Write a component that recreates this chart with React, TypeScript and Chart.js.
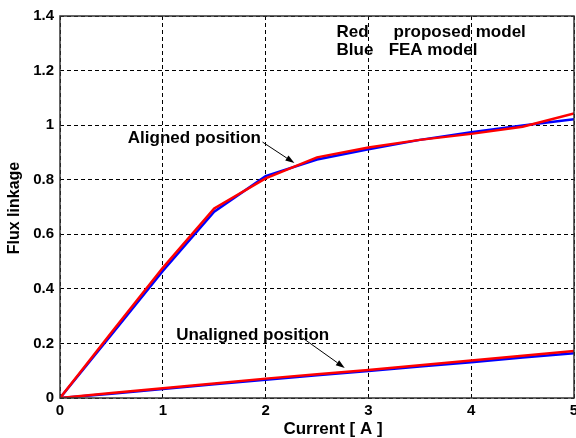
import React, { useEffect, useRef } from "react";
import { Chart, registerables } from "chart.js";

Chart.register(...registerables);

// Current [A] sample points
const current = [0, 0.5, 1, 1.5, 2, 2.5, 3, 3.5, 4, 4.5, 5];

// Flux linkage, aligned rotor position
const alignedProposed = [0, 0.24, 0.477, 0.695, 0.805, 0.882, 0.918, 0.946, 0.968, 0.994, 1.043];
const alignedFEA = [0, 0.232, 0.466, 0.683, 0.813, 0.874, 0.912, 0.946, 0.974, 0.999, 1.022];

// Flux linkage, unaligned rotor position
const unalignedProposed = [0, 0.018, 0.036, 0.053, 0.071, 0.087, 0.103, 0.12, 0.137, 0.155, 0.172];
const unalignedFEA = [0, 0.016, 0.033, 0.05, 0.067, 0.083, 0.099, 0.115, 0.131, 0.148, 0.164];

const xTicks = [0, 1, 2, 3, 4, 5];
const yTicks = [0, 0.2, 0.4, 0.6, 0.8, 1, 1.2, 1.4];

// In-plot notes, anchored in data units (left edge, text baseline)
const noteTexts = ["Aligned position", "Unaligned position", "Red", "proposed model", "Blue", "FEA model"];
const noteX = [0.66, 1.13, 2.69, 3.245, 2.69, 3.197];
const noteY = [0.934, 0.2125, 1.3226, 1.3226, 1.257, 1.257];

// Pointer arrows, in data units
const arrowFromX = [1.97, 2.36];
const arrowFromY = [0.938, 0.22];
const arrowToX = [2.28, 2.77];
const arrowToY = [0.861, 0.11];

const FONT = '"Liberation Sans", Arial, Helvetica, sans-serif';

const toPoints = (ys: number[]) => current.map((x, i) => ({ x, y: ys[i] }));

const decorPlugin = {
  id: "decor",
  afterDatasetsDraw(chart: any) {
    const { ctx, chartArea: a, scales } = chart;
    const sx = scales.x;
    const sy = scales.y;
    ctx.save();
    // frame around the plot area
    ctx.strokeStyle = "#333";
    ctx.lineWidth = 1.5;
    ctx.strokeRect(a.left, a.top, a.right - a.left, a.bottom - a.top);

    // notes
    ctx.fillStyle = "#000";
    ctx.font = `bold 17px ${FONT}`;
    ctx.textAlign = "left";
    ctx.textBaseline = "alphabetic";
    noteTexts.forEach((t, i) => {
      ctx.fillText(t, sx.getPixelForValue(noteX[i]), sy.getPixelForValue(noteY[i]));
    });

    // arrows
    ctx.strokeStyle = "#000";
    ctx.lineWidth = 1;
    arrowFromX.forEach((_, i) => {
      const x1 = sx.getPixelForValue(arrowFromX[i]);
      const y1 = sy.getPixelForValue(arrowFromY[i]);
      const x2 = sx.getPixelForValue(arrowToX[i]);
      const y2 = sy.getPixelForValue(arrowToY[i]);
      const ang = Math.atan2(y2 - y1, x2 - x1);
      const len = 9;
      const w = 3;
      ctx.beginPath();
      ctx.moveTo(x1, y1);
      ctx.lineTo(x2 - len * Math.cos(ang), y2 - len * Math.sin(ang));
      ctx.stroke();
      const bx = x2 - len * Math.cos(ang);
      const by = y2 - len * Math.sin(ang);
      ctx.beginPath();
      ctx.moveTo(x2, y2);
      ctx.lineTo(bx + w * Math.sin(ang), by - w * Math.cos(ang));
      ctx.lineTo(bx - w * Math.sin(ang), by + w * Math.cos(ang));
      ctx.closePath();
      ctx.fill();
    });

    // axis titles
    ctx.font = `bold 17px ${FONT}`;
    ctx.textAlign = "center";
    ctx.fillText("Current [ A ]", (a.left + a.right) / 2 + 16, a.bottom + 36);
    ctx.font = `bold 16px ${FONT}`;
    ctx.translate(19, (a.top + a.bottom) / 2 + 1);
    ctx.rotate(-Math.PI / 2);
    ctx.fillText("Flux linkage", 0, 0);
    ctx.restore();
  },
};

export default function App() {
  const ref = useRef<HTMLCanvasElement | null>(null);

  useEffect(() => {
    if (!ref.current) return;
    const lineStyle = (color: string) => ({
      borderColor: color,
      backgroundColor: color,
      borderWidth: 2.5,
      pointRadius: 0,
      tension: 0,
      fill: false,
    });
    const gridStyle = {
      color: "#000",
      lineWidth: 1,
      drawTicks: false,
      tickBorderDash: [4, 3],
    };
    const chart = new Chart(ref.current, {
      type: "line",
      data: {
        datasets: [
          { label: "Aligned, proposed model", data: toPoints(alignedProposed), ...lineStyle("#ff0000") },
          { label: "Unaligned, proposed model", data: toPoints(unalignedProposed), ...lineStyle("#ff0000") },
          { label: "Aligned, FEA model", data: toPoints(alignedFEA), ...lineStyle("#0000ff") },
          { label: "Unaligned, FEA model", data: toPoints(unalignedFEA), ...lineStyle("#0000ff") },
        ],
      },
      options: {
        responsive: false,
        animation: false,
        devicePixelRatio: 1,
        layout: { padding: { top: 16, right: 2, left: 0, bottom: 0 } },
        plugins: { legend: { display: false }, tooltip: { enabled: false } },
        scales: {
          x: {
            type: "linear",
            min: 0,
            max: 5,
            border: { display: false, dash: [4, 3] },
            grid: gridStyle,
            afterBuildTicks: (s: any) => {
              s.ticks = xTicks.map((value) => ({ value }));
            },
            afterFit: (s: any) => {
              s.height = 40;
              s.paddingLeft = 0;
              s.paddingRight = 0;
            },
            ticks: {
              color: "#000",
              padding: 4,
              maxRotation: 0,
              font: { family: FONT, size: 15, weight: "bold" },
              callback: (v: any) => String(v),
            },
          },
          y: {
            type: "linear",
            min: 0,
            max: 1.4,
            border: { display: false, dash: [4, 3] },
            grid: gridStyle,
            afterBuildTicks: (s: any) => {
              s.ticks = yTicks.map((value) => ({ value }));
            },
            afterFit: (s: any) => {
              s.width = 60;
              s.paddingTop = 0;
              s.paddingBottom = 0;
            },
            ticks: {
              color: "#000",
              padding: 6,
              font: { family: FONT, size: 15, weight: "bold" },
              callback: (v: any) => String(Number(Number(v).toFixed(1))),
            },
          },
        },
      },
      plugins: [decorPlugin],
    });
    return () => chart.destroy();
  }, []);

  return (
    <div style={{ position: "fixed", left: 0, top: 0, width: 576, height: 438, background: "#fff" }}>
      <canvas ref={ref} width={576} height={438} style={{ display: "block" }} />
    </div>
  );
}
